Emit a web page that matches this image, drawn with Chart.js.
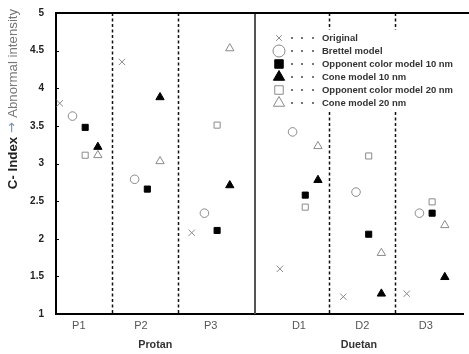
<!DOCTYPE html>
<html lang="en">
<head>
  <meta charset="UTF-8">
  <title>C-Index chart</title>
  <script src="https://cdn.jsdelivr.net/npm/chart.js"></script>
  <style>
    html, body { margin: 0; padding: 0; background: #fff; }
    #wrap { width: 469px; height: 354px; }
  </style>
</head>
<body>
<div id="wrap"><canvas id="chart"></canvas></div>

<script>
// groups and where they sit on the x axis
const groups = ['P1', 'P2', 'P3', 'D1', 'D2', 'D3'];
const groupX = [1, 1.98, 3.08, 4.47, 5.47, 6.47];
const dashedAt = [1.52, 2.56, 4.94, 5.98];
const solidAt = 3.77;

// series values, one per group (null = not shown)
const original   = [3.80, 4.35, 2.08, 1.60, 1.23, 1.27];
const brettel    = [3.63, 2.79, 2.34, 3.42, 2.62, 2.34];
const opp10      = [3.48, 2.66, 2.11, 2.58, 2.06, 2.34];
const cone10     = [3.22, 3.88, 2.71, 2.78, 1.27, 1.49];
const opp20      = [3.11, null, 3.51, 2.42, 3.10, 2.49];
const cone20     = [3.11, 3.03, 4.53, 3.23, 1.81, 2.18];

const yTicks = [1, 1.5, 2, 2.5, 3, 3.5, 4, 4.5, 5];

const GRAY = '#8a8a8a';
const FONT = '"Liberation Sans", Arial, sans-serif';

function pts(vals, off) {
  return vals.map((v, i) => v == null ? null : { x: groupX[i] + off, y: v }).filter(p => p);
}

const series = [
  { label: 'Original', data: pts(original, -0.3), pointStyle: 'crossRot', radius: 4.5, bg: GRAY, border: GRAY, lr: 4 },
  { label: 'Brettel model', data: pts(brettel, -0.1), pointStyle: 'circle', radius: 4.3, bg: '#fff', border: GRAY, lr: 6 },
  { label: 'Opponent color model 10 nm', data: pts(opp10, 0.1), pointStyle: 'rect', radius: 4.3, bg: '#000', border: '#000', lr: 6 },
  { label: 'Cone model 10 nm', data: pts(cone10, 0.3), pointStyle: 'triangle', radius: 4.8, bg: '#000', border: '#000', lr: 6.5 },
  { label: 'Opponent color model 20 nm', data: pts(opp20, 0.1), pointStyle: 'rect', radius: 4.3, bg: '#fff', border: GRAY, lr: 6 },
  { label: 'Cone model 20 nm', data: pts(cone20, 0.3), pointStyle: 'triangle', radius: 4.8, bg: '#fff', border: GRAY, lr: 6.5 }
];

// font size so that text has the given width
function fitFont(ctx, text, weight, width) {
  ctx.font = weight + ' 10px ' + FONT;
  const w = ctx.measureText(text).width;
  return weight + ' ' + (10 * width / w).toFixed(2) + 'px ' + FONT;
}

const decor = {
  id: 'decor',
  beforeDatasetsDraw(chart) {
    const { ctx, chartArea: a, scales: { x, y } } = chart;
    ctx.save();
    ctx.strokeStyle = '#111';
    ctx.lineWidth = 1.5;
    ctx.setLineDash([3, 2.5]);
    dashedAt.forEach(v => {
      const px = Math.round(x.getPixelForValue(v)) + 0.5;
      ctx.beginPath(); ctx.moveTo(px, a.top); ctx.lineTo(px, a.bottom); ctx.stroke();
    });
    ctx.setLineDash([]);
    ctx.strokeStyle = '#555';
    ctx.lineWidth = 2;
    const sx = Math.round(x.getPixelForValue(solidAt));
    ctx.beginPath(); ctx.moveTo(sx, a.top); ctx.lineTo(sx, a.bottom); ctx.stroke();
    // top border
    ctx.strokeStyle = '#000';
    ctx.beginPath(); ctx.moveTo(a.left, a.top); ctx.lineTo(chart.width, a.top); ctx.stroke();
    // small inside ticks on the y axis
    ctx.lineWidth = 1;
    yTicks.forEach(v => {
      const py = Math.round(y.getPixelForValue(v)) + 0.5;
      ctx.beginPath(); ctx.moveTo(a.left, py); ctx.lineTo(a.left + 3, py); ctx.stroke();
    });
    // legend background
    ctx.fillStyle = '#fff';
    ctx.fillRect(270, 30, 192, 80);
    ctx.restore();
  },
  afterDraw(chart) {
    const { ctx, chartArea: a, scales: { x } } = chart;
    ctx.save();
    // legend
    const lx = 279, ly = 38, step = 13;
    const legendFont = fitFont(ctx, 'Opponent color model 10 nm', 'bold', 131);
    series.forEach((s, i) => {
      const y = ly + i * step;
      ctx.fillStyle = s.bg; ctx.strokeStyle = s.border;
      Chart.helpers.drawPoint(ctx, {
        pointStyle: s.pointStyle, radius: s.lr, rotation: 0, borderWidth: 1
      }, lx, y);
      ctx.fillStyle = '#555';
      [292, 302, 313].forEach(dx => { ctx.beginPath(); ctx.arc(dx, y, 1.1, 0, Math.PI * 2); ctx.fill(); });
      ctx.fillStyle = '#333';
      ctx.font = legendFont;
      ctx.textBaseline = 'middle';
      ctx.textAlign = 'left';
      ctx.fillText(s.label, 322, y + 0.5);
    });
    // group titles
    ctx.font = fitFont(ctx, 'Protan', 'bold', 34);
    ctx.fillStyle = '#333';
    ctx.textAlign = 'center';
    ctx.textBaseline = 'middle';
    const sx = x.getPixelForValue(solidAt);
    ctx.fillText('Protan', (a.left + sx) / 2, 345);
    ctx.fillText('Duetan', (sx + a.right) / 2, 345);
    // y title, mixed styles
    ctx.translate(13, 99);
    ctx.rotate(-Math.PI / 2);
    const parts = [
      { t: 'C- Index ', w: 'bold', c: '#222', f: FONT },
      { t: '\u2192 ', w: 'normal', c: '#7f8fb0', f: '"DejaVu Sans", sans-serif' },
      { t: 'Abnormal intensity', w: 'normal', c: '#777', f: FONT }
    ];
    ctx.font = 'normal 10px ' + FONT;
    const size = (10 * 109 / ctx.measureText('Abnormal intensity').width).toFixed(2);
    let total = 0;
    parts.forEach(p => { ctx.font = p.w + ' ' + size + 'px ' + p.f; total += ctx.measureText(p.t).width; });
    let cx = -total / 2;
    ctx.textAlign = 'left';
    parts.forEach(p => {
      ctx.font = p.w + ' ' + size + 'px ' + p.f; ctx.fillStyle = p.c;
      ctx.fillText(p.t, cx, 0);
      cx += ctx.measureText(p.t).width;
    });
    ctx.restore();
  }
};

new Chart(document.getElementById('chart'), {
  type: 'scatter',
  data: {
    datasets: series.map(s => ({
      label: s.label,
      data: s.data,
      pointStyle: s.pointStyle,
      pointRadius: s.radius,
      pointHoverRadius: s.radius,
      backgroundColor: s.bg,
      borderColor: s.border,
      pointBorderWidth: 1
    }))
  },
  options: {
    responsive: true,
    maintainAspectRatio: false,
    animation: false,
    events: [],
    layout: { padding: { left: 0, right: 2, top: 13, bottom: 0 } },
    plugins: { legend: { display: false }, tooltip: { enabled: false } },
    scales: {
      x: {
        type: 'linear',
        min: 0.64,
        max: 7.06,
        afterBuildTicks(scale) { scale.ticks = groupX.map(v => ({ value: v })); },
        afterFit(scale) { scale.height = 40; scale.paddingLeft = 0; scale.paddingRight = 0; },
        ticks: {
          callback: (v) => { const i = groupX.indexOf(v); return i >= 0 ? groups[i] : ''; },
          font: { family: FONT, size: 11 },
          color: '#555',
          padding: 5,
          autoSkip: false,
          maxRotation: 0
        },
        grid: { display: false, drawTicks: false },
        border: { color: '#000', width: 2 }
      },
      y: {
        min: 1,
        max: 5,
        afterBuildTicks(scale) { scale.ticks = yTicks.map(v => ({ value: v })); },
        afterFit(scale) { scale.width = 56; scale.paddingTop = 0; scale.paddingBottom = 0; },
        ticks: {
          callback: (v) => String(v),
          font: { family: FONT, size: 10, weight: 'bold' },
          color: '#222',
          padding: 12
        },
        grid: { display: false, drawTicks: false },
        border: { color: '#000', width: 2 }
      }
    }
  },
  plugins: [decor]
});
</script>
</body>
</html>
